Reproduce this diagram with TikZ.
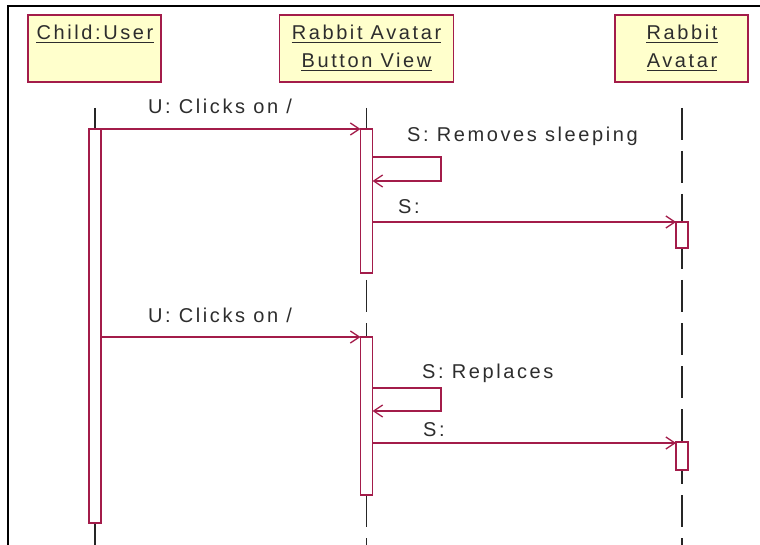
\documentclass[tikz,border=0pt]{standalone}
\usepackage{fontspec}
\setmainfont{Liberation Sans}[LetterSpace=13]
\usetikzlibrary{arrows.meta}
\definecolor{umlred}{RGB}{163,28,74}
\definecolor{umlfill}{RGB}{255,255,204}
\definecolor{txt}{RGB}{45,45,45}

\begin{document}
\begin{tikzpicture}[x=1pt,y=-1pt,
  objbox/.style={draw=umlred, fill=umlfill, line width=1.3pt, minimum height=67pt, inner sep=0pt},
  lbl/.style={font=\fontsize{20}{24}\selectfont, text=txt, inner sep=0pt},
  uline/.style={draw=txt, line width=1pt},
  act/.style={draw=umlred, fill=white, line width=1.3pt, minimum width=12pt, inner sep=0pt, outer sep=0pt, anchor=north},
  msg/.style={draw=umlred, line width=1.3pt, -{Straight Barb[length=9pt,width=12pt,line width=1.3pt]}},
  solidlife/.style={draw=black!85, line width=1.3pt},
  dashlife/.style={draw=black!85, line width=1.3pt, dash pattern=on 32pt off 11pt},
  frameline/.style={draw=black, line width=2pt}
]
\useasboundingbox (0,0) rectangle (760,545);
\fill[white] (0,0) rectangle (760,545);

% outer frame (top and left edges)
\draw[frameline] (8.3,545) -- (8.3,6) -- (760,6);

% object boxes
\node[objbox, minimum width=133pt] (user)    at (94.5,48.5) {};
\node[objbox, minimum width=174pt] (btnview) at (366.5,48.5) {};
\node[objbox, minimum width=133pt] (avatar)  at (681.5,48.5) {};

% object names, underlined
\node[lbl, anchor=base] (userlbl) at (95,40)  {Child:User};
\node[lbl, anchor=base] (btnlbl1) at (366.5,40) {Rabbit Avatar};
\node[lbl, anchor=base] (btnlbl2) at (366.5,68) {Button View};
\node[lbl, anchor=base] (avlbl1)  at (682,40) {Rabbit};
\node[lbl, anchor=base] (avlbl2)  at (682,68) {Avatar};
\foreach \n in {userlbl,btnlbl1,btnlbl2,avlbl1,avlbl2}
  \draw[uline] ([yshift=-2.5pt]\n.base west) -- ([yshift=-2.5pt]\n.base east);

% lifelines
\coordinate (l1top) at (95,108);    \coordinate (l1bot) at (95,545);
\coordinate (l2top) at (366.5,108); \coordinate (l2bot) at (366.5,545);
\coordinate (l3top) at (682,108);   \coordinate (l3bot) at (682,545);
\draw[solidlife] (l1top) -- (l1bot);
\draw[dashlife]  (l2top) -- (l2bot);
\draw[dashlife]  (l3top) -- (l3bot);

% activation bars
\node[act, minimum height=394pt] (a1)  at (95,129) {};
\node[act, minimum height=144pt] (a2a) at (366.5,129) {};
\node[act, minimum height=158pt] (a2b) at (366.5,337) {};
\node[act, minimum height=26pt]  (a3a) at (682,222) {};
\node[act, minimum height=28pt]  (a3b) at (682,442) {};

% helper coordinates for message rows
\coordinate (r1) at (0,129);
\coordinate (r2a) at (0,157); \coordinate (r2b) at (0,181);
\coordinate (r3) at (0,222);
\coordinate (r4) at (0,337);
\coordinate (r5a) at (0,388); \coordinate (r5b) at (0,411);
\coordinate (r6) at (0,443);
\coordinate (loopx) at (441,0);

% first interaction
\draw[msg] (a1.east |- r1) -- (a2a.west |- r1);
\node[lbl, anchor=base] (m1) at (220,114) {U: Clicks on /};
\draw[msg] (a2a.east |- r2a) -- (loopx |- r2a) -- (loopx |- r2b) -- (a2a.east |- r2b);
\node[lbl, anchor=base west] (m2) at (407,142) {S: Removes sleeping};
\draw[msg] (a2a.east |- r3) -- (a3a.west |- r3);
\node[lbl, anchor=base west] (m3) at (398,214) {S:};

% second interaction
\draw[msg] (a1.east |- r4) -- (a2b.west |- r4);
\node[lbl, anchor=base] (m4) at (220,322) {U: Clicks on /};
\draw[msg] (a2b.east |- r5a) -- (loopx |- r5a) -- (loopx |- r5b) -- (a2b.east |- r5b);
\node[lbl, anchor=base west] (m5) at (422,378) {S: Replaces};
\draw[msg] (a2b.east |- r6) -- (a3b.west |- r6);
\node[lbl, anchor=base west] (m6) at (423,436) {S:};
\end{tikzpicture}
\end{document}
